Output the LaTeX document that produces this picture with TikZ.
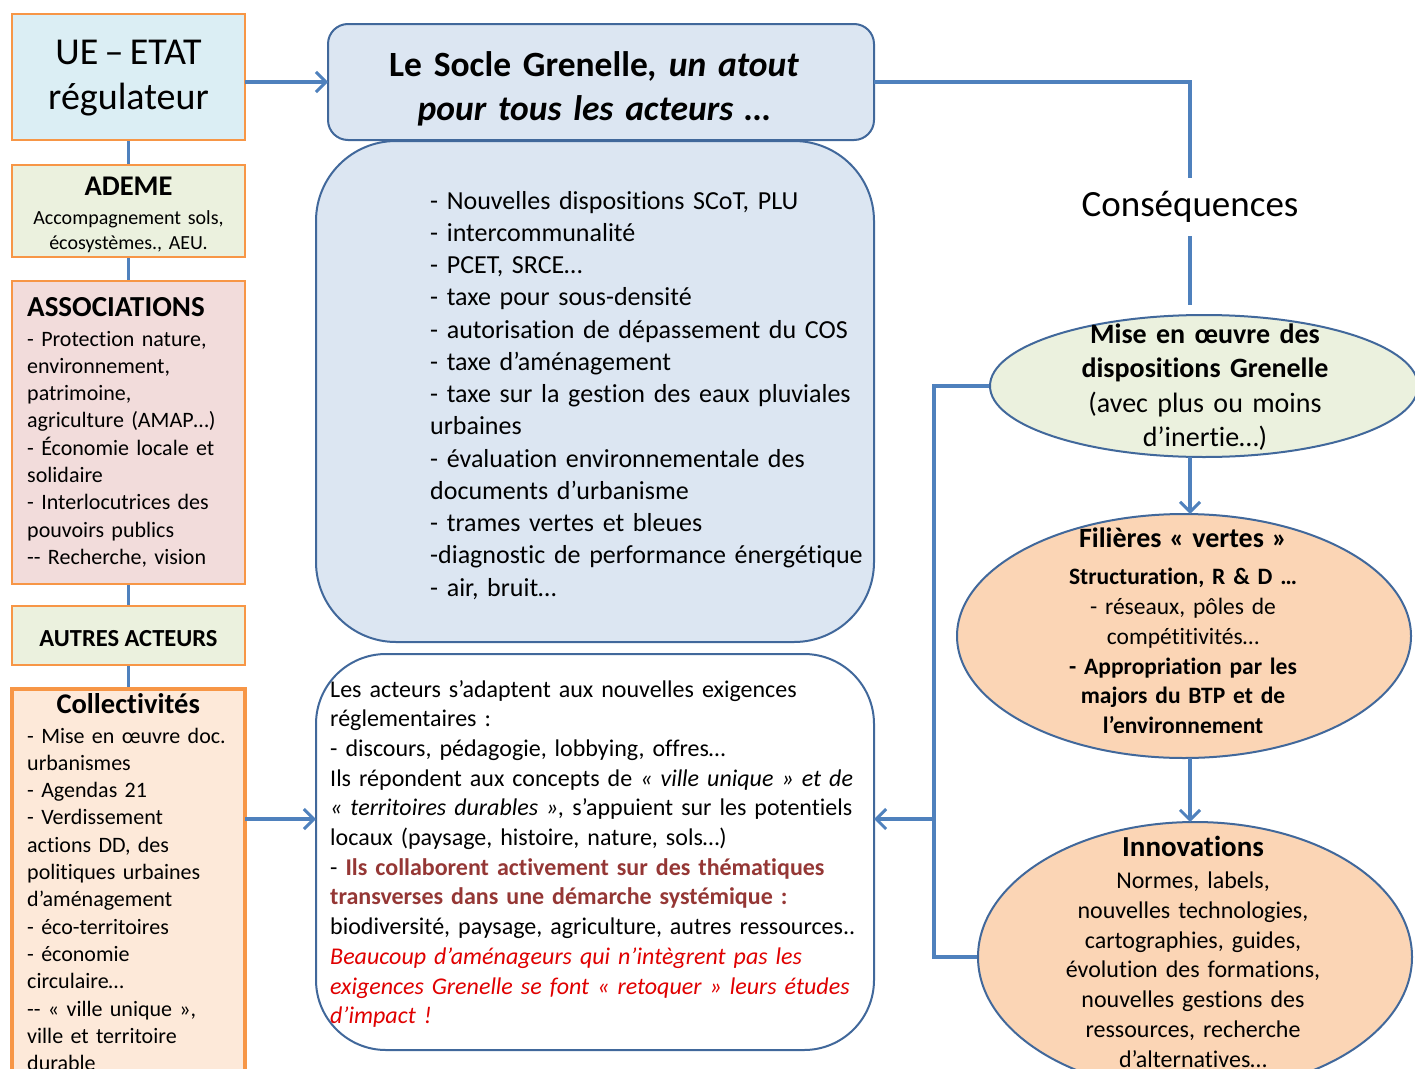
\documentclass[tikz,border=0pt]{standalone}
\usepackage{fontspec}
\setmainfont[Ligatures=NoCommon]{Carlito}
\usetikzlibrary{shapes.geometric,arrows.meta,backgrounds}
\definecolor{orbd}{HTML}{F79646}
\definecolor{bline}{HTML}{4F81BD}
\definecolor{dbd}{HTML}{41689B}
\definecolor{uefill}{HTML}{DBEEF4}
\definecolor{sfill}{HTML}{DCE6F2}
\definecolor{gfill}{HTML}{EBF1DE}
\definecolor{pfill}{HTML}{F2DCDB}
\definecolor{cfill}{HTML}{FDE9D9}
\definecolor{efill}{HTML}{FBD5B5}
\definecolor{dred}{HTML}{953735}
\definecolor{rred}{HTML}{E00000}
\newcommand\fsz[2]{\fontsize{#1}{#2}\selectfont}
\begin{document}
\begin{tikzpicture}[x=1pt,y=-1pt,
  obox/.style={draw=orbd,line width=2.5pt,anchor=north west,inner sep=0pt,outer sep=0pt},
  rbox/.style={draw=dbd,line width=2pt,fill=sfill,anchor=north west,inner sep=0pt,outer sep=0pt},
  ell/.style={ellipse,draw=dbd,line width=2pt,inner sep=0pt,outer sep=0pt},
  link/.style={draw=bline,line width=3.5pt},
  arr/.style={link,-{Straight Barb[length=10pt,width=20pt,line width=3pt]}},
  ltxt/.style={inner sep=0pt,anchor=base west,align=left},
  ctxt/.style={inner sep=0pt,align=center},
]
\useasboundingbox (0,0) rectangle (1415,1068);
\clip (0,0) rectangle (1415,1068);

% left column
\node[obox,fill=uefill,minimum width=233pt,minimum height=126pt] (ue) at (12,14) {};
\node[obox,fill=gfill,minimum width=233pt,minimum height=92pt] (ademe) at (12,165) {};
\node[obox,fill=pfill,minimum width=233pt,minimum height=303pt] (assoc) at (12,281) {};
\node[obox,fill=gfill,minimum width=233pt,minimum height=59pt] (autres) at (12,606) {};
\node[obox,fill=cfill,line width=3.5pt,minimum width=233pt,minimum height=420pt] (coll) at (12,689) {};

\node[ctxt,text width=225pt,font=\fsz{38}{45}] (ue-t) at (128.5,78) {UE\,–\,ETAT\\régulateur};
\node[ctxt,text width=225pt,font=\fsz{20}{25}] (ademe-t) at (128.5,215) {{\fsz{28.5}{25}\bfseries ADEME}\\[4pt]Accompagnement sols,\\écosystèmes., AEU.};
\node[ltxt,text width=230pt,font=\fsz{22}{27.3}] (assoc-t) at (27,316) {{\fsz{29}{27.3}\bfseries ASSOCIATIONS}\\[2.7pt]- Protection nature,\\environnement,\\patrimoine,\\agriculture (AMAP…)\\- Économie locale et\\solidaire\\- Interlocutrices des\\pouvoirs publics\\{-}{-} Recherche, vision};
\node[ctxt,font=\fsz{24.5}{27}\bfseries] (autres-t) at (128.5,639) {AUTRES ACTEURS};
\node[ltxt,text width=230pt,font=\fsz{22}{27.3}] (coll-t) at (27,713) {\makebox[202pt]{\fsz{28.5}{27.3}\bfseries Collectivités}\\[2.7pt]- Mise en œuvre doc.\\urbanismes\\- Agendas 21\\- Verdissement\\actions DD, des\\politiques urbaines\\d’aménagement\\- éco-territoires\\- économie\\circulaire…\\{-}{-} « ville unique »,\\ville et territoire\\durable};

% centre column
\node[rbox,rounded corners=80pt,minimum width=558pt,minimum height=501pt] (list) at (316,141) {};
\node[rbox,rounded corners=20pt,minimum width=546pt,minimum height=116pt] (socle) at (328,24) {};
\node[rbox,fill=white,rounded corners=70pt,minimum width=558pt,minimum height=396pt] (act) at (316,654) {};

\node[ctxt,text width=540pt,font=\fsz{35.5}{44}\bfseries] (socle-t) at (594,89) {Le Socle Grenelle\textit{, un atout}\\\textit{pour tous les acteurs …}};
\node[ltxt,text width=480pt,font=\fsz{26}{32.25}] (list-t) at (430,209) {- Nouvelles dispositions SCoT, PLU\\- intercommunalité\\- PCET, SRCE…\\- taxe pour sous-densité\\- autorisation de dépassement du COS\\- taxe d’aménagement\\- taxe sur la gestion des eaux pluviales\\urbaines\\- évaluation environnementale des\\documents d’urbanisme\\- trames vertes et bleues\\-diagnostic de performance énergétique\\- air, bruit…};
\node[ltxt,text width=580pt,font=\fsz{24}{29.7}] (act-t) at (330,697) {Les acteurs s’adaptent aux nouvelles exigences\\réglementaires :\\- discours, pédagogie, lobbying, offres…\\Ils répondent aux concepts de \textit{« ville unique » et de}\\\textit{« territoires durables »,} s’appuient sur les potentiels\\locaux (paysage, histoire, nature, sols…)\\- {\color{dred}\bfseries Ils collaborent activement sur des thématiques}\\{\color{dred}\bfseries transverses dans une démarche systémique :}\\biodiversité, paysage, agriculture, autres ressources..\\{\color{rred}\itshape Beaucoup d’aménageurs qui n’intègrent pas les}\\{\color{rred}\itshape exigences Grenelle se font « retoquer » leurs études}\\{\color{rred}\itshape d’impact !}};

% right column
\node[inner sep=0pt,minimum height=58pt,font=\fsz{37}{40}] (cons) at (1190,207) {Conséquences};
\node[ell,fill=gfill,minimum width=428pt,minimum height=142pt] (mise) at (1204,386) {};
\node[ell,fill=efill,minimum width=454pt,minimum height=244pt] (fil) at (1184,636) {};
\node[ell,fill=efill,minimum width=434pt,minimum height=270pt] (innov) at (1195,957) {};

\node[ctxt,text width=400pt,font=\fsz{28}{34.5}] (mise-t) at (1205,387) {{\bfseries Mise en œuvre des\\dispositions Grenelle}\\(avec plus ou moins\\d’inertie…)};
\node[ctxt,text width=400pt,font=\fsz{23.5}{29.8}] (fil-t) at (1183,631) {{\fsz{28}{29.8}\bfseries Filières « vertes »}\\[7pt]{\bfseries Structuration, R \& D …}\\- réseaux, pôles de\\compétitivités…\\{\bfseries - Appropriation par les\\majors du BTP et de\\l’environnement}};
\node[ctxt,text width=400pt,font=\fsz{24}{29.8}] (innov-t) at (1193,952) {{\fsz{29}{29.8}\bfseries Innovations}\\[2pt]Normes, labels,\\nouvelles technologies,\\cartographies, guides,\\évolution des formations,\\nouvelles gestions des\\ressources, recherche\\d’alternatives…};

\coordinate (bus) at (934,0);
\coordinate (lvl) at (0,819);

\begin{scope}[on background layer]
\fill[white] (0,0) rectangle (1415,1068);
\draw[link] (ue.south) -- (ademe.north);
\draw[link] (ademe.south) -- (assoc.north);
\draw[link] (assoc.south) -- (autres.north);
\draw[link] (autres.south) -- (coll.north);
\draw[link] (mise.west) -| (bus |- innov.west) -- (innov.west);
\end{scope}

\draw[arr] (socle.west -| ue.east) -- (socle.west);
\draw[arr] (coll.east |- lvl) -- (act.west |- lvl);
\draw[arr] (bus |- lvl) -- (act.east |- lvl);
\draw[link] (socle.east) -| (cons.north);
\draw[link,shorten >=10pt] (cons.south) -- (cons.south |- mise.north);
\draw[arr] (cons.south |- mise.south) -- (cons.south |- fil.north);
\draw[arr] (cons.south |- fil.south) -- (cons.south |- innov.north);
\end{tikzpicture}
\end{document}
